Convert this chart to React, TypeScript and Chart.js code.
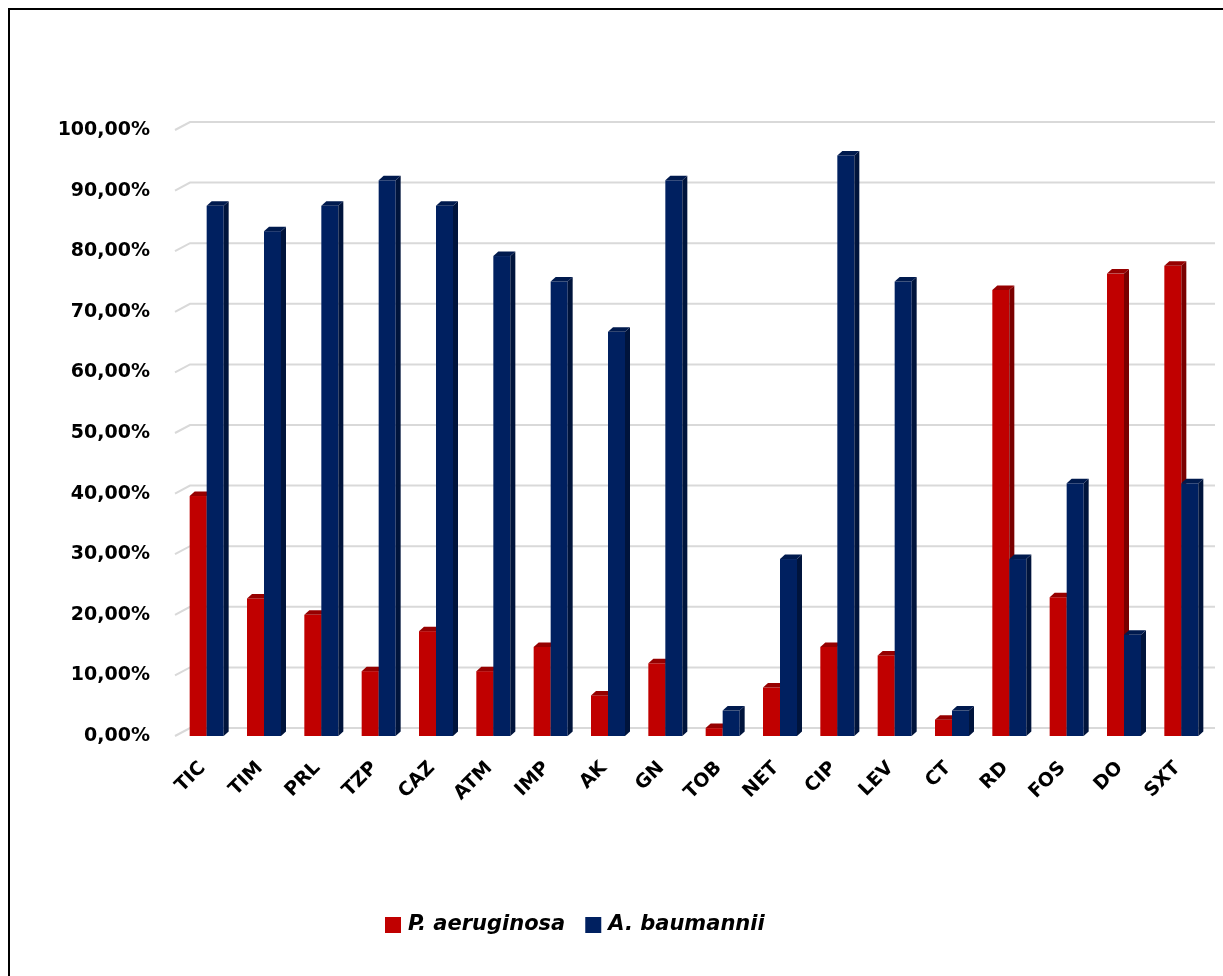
import React, { useEffect, useRef } from 'react';
import { Chart, registerables } from 'chart.js';

Chart.register(...registerables);

// Antibiotics on the category axis
const categories = ['TIC', 'TIM', 'PRL', 'TZP', 'CAZ', 'ATM', 'IMP', 'AK', 'GN', 'TOB', 'NET', 'CIP', 'LEV', 'CT', 'RD', 'FOS', 'DO', 'SXT'];

// Resistance rates (%) per organism
const pAeruginosa = [39.6, 22.7, 20.0, 10.7, 17.3, 10.7, 14.7, 6.7, 12.0, 1.3, 8.0, 14.7, 13.3, 2.7, 73.6, 22.9, 76.3, 77.6];
const aBaumannii = [87.5, 83.3, 87.5, 91.7, 87.5, 79.2, 75.0, 66.7, 91.7, 4.2, 29.2, 95.8, 75.0, 4.2, 29.2, 41.7, 16.7, 41.7];

const seriesNames = ['P. aeruginosa', 'A. baumannii'];

// Value axis tick values (%)
const yTicks = [0, 10, 20, 30, 40, 50, 60, 70, 80, 90, 100];

const FONT = "'DejaVu Sans', sans-serif";

const palette = [
  { front: '#C00000', side: '#7A0000', top: '#960000' },
  { front: '#002060', side: '#00143C', top: '#001A4E' },
];

// depth of a column, in px
const COL_DX = 5;
const COL_DY = 4.5;

const formatPercent = (v: number) => v.toFixed(2).replace('.', ',') + '%';

function drawColumn(ctx: CanvasRenderingContext2D, x: number, top: number, base: number, w: number, c: { front: string; side: string; top: string }) {
  const l = x - w / 2;
  const r = x + w / 2;
  ctx.fillStyle = c.front;
  ctx.fillRect(l, top, w, base - top);
  ctx.fillStyle = c.side;
  ctx.beginPath();
  ctx.moveTo(r, top);
  ctx.lineTo(r + COL_DX, top - COL_DY);
  ctx.lineTo(r + COL_DX, base - COL_DY);
  ctx.lineTo(r, base);
  ctx.closePath();
  ctx.fill();
  ctx.fillStyle = c.top;
  ctx.beginPath();
  ctx.moveTo(l, top);
  ctx.lineTo(l + COL_DX, top - COL_DY);
  ctx.lineTo(r + COL_DX, top - COL_DY);
  ctx.lineTo(r, top);
  ctx.closePath();
  ctx.fill();
}

// Back-wall gridlines and pseudo-3D columns
const columns3d = {
  id: 'columns3d',
  beforeDatasetsDraw(chart: any) {
    const ctx: CanvasRenderingContext2D = chart.ctx;
    const { left, right } = chart.chartArea;
    const yScale = chart.scales.y;
    ctx.save();
    ctx.strokeStyle = '#D9D9D9';
    ctx.lineWidth = 2;
    for (const v of yTicks) {
      const py = yScale.getPixelForValue(v);
      ctx.beginPath();
      ctx.moveTo(left - 3, py);
      ctx.lineTo(left + 12, py - 8);
      ctx.lineTo(right + 5, py - 8);
      ctx.stroke();
    }
    const metas = [0, 1].map((i) => chart.getDatasetMeta(i));
    for (let i = 0; i < categories.length; i++) {
      metas.forEach((meta: any, d: number) => {
        const el = meta.data[i];
        if (!el) return;
        const p = el.getProps(['x', 'y', 'base', 'width'], true);
        drawColumn(ctx, p.x, p.y, p.base, p.width, palette[d]);
      });
    }
    ctx.restore();
    return false;
  },
};

// Legend row under the category labels
const legendRow = {
  id: 'legendRow',
  afterDraw(chart: any) {
    const ctx: CanvasRenderingContext2D = chart.ctx;
    const cy = 915;
    const box = 16;
    let x = 375;
    ctx.save();
    ctx.font = `italic bold 21px ${FONT}`;
    ctx.textBaseline = 'middle';
    ctx.textAlign = 'left';
    seriesNames.forEach((name, i) => {
      ctx.fillStyle = palette[i].front;
      ctx.fillRect(x, cy - box / 2, box, box);
      x += box + 7;
      ctx.fillStyle = '#000';
      ctx.fillText(name, x, cy);
      x += ctx.measureText(name).width + 20;
    });
    ctx.restore();
  },
};

export default function App() {
  const ref = useRef<HTMLCanvasElement>(null);

  useEffect(() => {
    const chart = new Chart(ref.current as HTMLCanvasElement, {
      type: 'bar',
      data: {
        labels: categories,
        datasets: [
          { label: seriesNames[0], data: pAeruginosa, backgroundColor: palette[0].front },
          { label: seriesNames[1], data: aBaumannii, backgroundColor: palette[1].front },
        ],
      },
      options: {
        responsive: false,
        animation: false,
        events: [],
        layout: { padding: { top: 120, right: 13, left: 0, bottom: 0 } },
        datasets: { bar: { categoryPercentage: 34 / 57.33, barPercentage: 1 } },
        plugins: { legend: { display: false }, tooltip: { enabled: false } },
        scales: {
          x: {
            grid: { display: false, drawTicks: false },
            border: { display: false },
            ticks: {
              color: '#000',
              font: { family: FONT, weight: 'bold', size: 19 },
              minRotation: 45,
              maxRotation: 45,
              autoSkip: false,
              padding: 21,
              labelOffset: -4,
            },
            afterFit: (s: any) => {
              s.height = 240;
            },
          },
          y: {
            min: 0,
            max: 100,
            grid: { display: false, drawTicks: false },
            border: { display: false },
            ticks: {
              stepSize: 10,
              color: '#000',
              font: { family: FONT, weight: 'bold', size: 19 },
              padding: 28,
              callback: (v: any) => formatPercent(Number(v)),
            },
            afterFit: (s: any) => {
              s.width = 168;
            },
          },
        },
      } as any,
      plugins: [columns3d, legendRow],
    });
    return () => chart.destroy();
  }, []);

  return (
    <div
      style={{
        position: 'fixed',
        left: 8,
        top: 8,
        width: 1215,
        height: 968,
        boxSizing: 'border-box',
        borderLeft: '2px solid #000',
        borderTop: '2px solid #000',
        background: '#fff',
      }}
    >
      <canvas ref={ref} width={1213} height={966} style={{ display: 'block', width: 1213, height: 966 }} />
    </div>
  );
}
